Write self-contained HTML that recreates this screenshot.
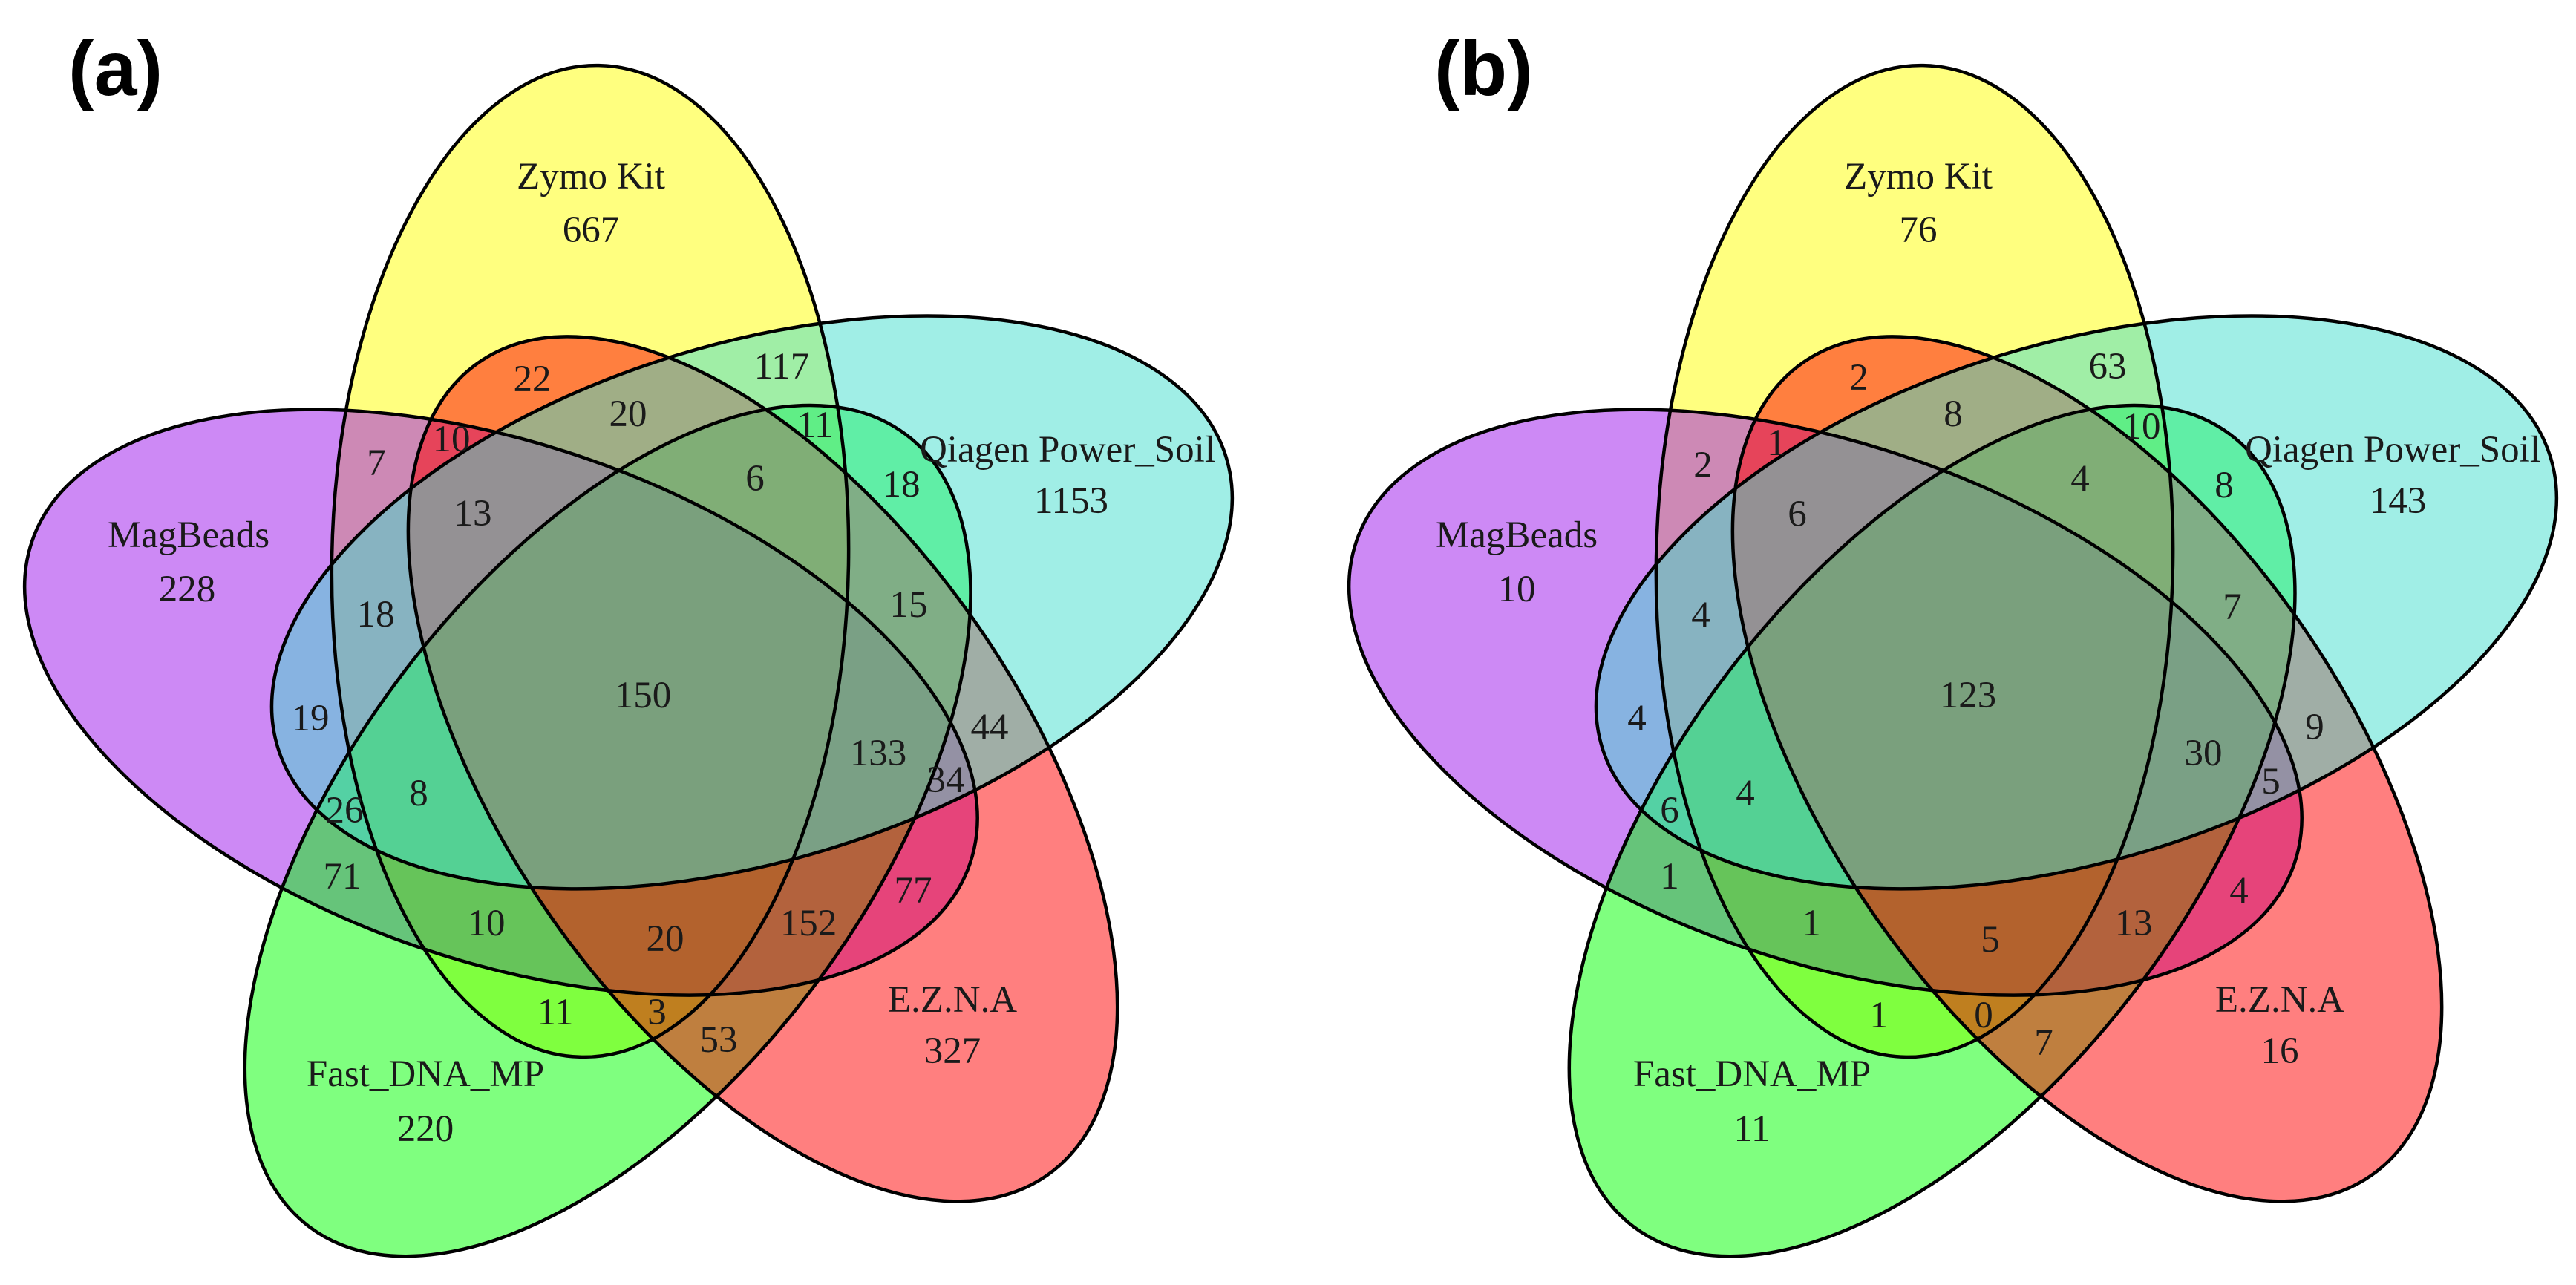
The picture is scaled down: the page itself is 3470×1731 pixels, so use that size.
<!DOCTYPE html>
<html><head><meta charset="utf-8"><style>
html,body{margin:0;padding:0;background:#fff;width:3470px;height:1731px;overflow:hidden;}
svg{display:block;}
text{font-family:"Liberation Serif",serif;font-size:51px;fill:#1a1a1a;text-anchor:middle;dominant-baseline:central;}
.lab{font-family:"Liberation Sans",sans-serif;font-weight:bold;font-size:104px;fill:#000;text-anchor:start;dominant-baseline:auto;}
</style></head><body>
<svg width="3470" height="1731" viewBox="0 0 3470 1731" xmlns="http://www.w3.org/2000/svg">
<defs>
<g id="venn">
  <ellipse cx="795" cy="756" rx="348" ry="668" transform="rotate(0 865.8 933.7) rotate(1 795 756)" fill="#FFFF00" fill-opacity="0.5"/>
  <ellipse cx="795" cy="756" rx="348" ry="668" transform="rotate(288 865.8 933.7) rotate(1 795 756)" fill="#9B13EB" fill-opacity="0.5"/>
  <ellipse cx="795" cy="756" rx="348" ry="668" transform="rotate(216 865.8 933.7) rotate(1 795 756)" fill="#00FF00" fill-opacity="0.5"/>
  <ellipse cx="795" cy="756" rx="348" ry="668" transform="rotate(144 865.8 933.7) rotate(1 795 756)" fill="#FF0000" fill-opacity="0.5"/>
  <ellipse cx="795" cy="756" rx="348" ry="668" transform="rotate(72 865.8 933.7) rotate(1 795 756)" fill="#41DDCD" fill-opacity="0.5"/>
  <g fill="none" stroke="#000" stroke-width="4.5">
  <ellipse cx="795" cy="756" rx="348" ry="668" transform="rotate(0 865.8 933.7) rotate(1 795 756)"/>
  <ellipse cx="795" cy="756" rx="348" ry="668" transform="rotate(72 865.8 933.7) rotate(1 795 756)"/>
  <ellipse cx="795" cy="756" rx="348" ry="668" transform="rotate(144 865.8 933.7) rotate(1 795 756)"/>
  <ellipse cx="795" cy="756" rx="348" ry="668" transform="rotate(216 865.8 933.7) rotate(1 795 756)"/>
  <ellipse cx="795" cy="756" rx="348" ry="668" transform="rotate(288 865.8 933.7) rotate(1 795 756)"/>
  </g>
</g>
</defs>

<use href="#venn"/>
<use href="#venn" transform="translate(1784,0)"/>

<text class="lab" x="92" y="128">(a)</text>
<text class="lab" x="1932" y="128">(b)</text>

<!-- Panel a -->
<text x="796" y="238">Zymo Kit</text><text x="796" y="310">667</text>
<text x="717" y="511">22</text>
<text x="1053" y="494">117</text>
<text x="846" y="558">20</text>
<text x="1098" y="573">11</text>
<text x="1438" y="606">Qiagen Power_Soil</text><text x="1443" y="675">1153</text>
<text x="608" y="592">10</text>
<text x="507" y="624">7</text>
<text x="1017" y="645">6</text>
<text x="1214" y="653">18</text>
<text x="637" y="692">13</text>
<text x="254" y="721">MagBeads</text><text x="252" y="794">228</text>
<text x="506" y="828">18</text>
<text x="1224" y="815">15</text>
<text x="866" y="937">150</text>
<text x="418" y="968">19</text>
<text x="1333" y="980">44</text>
<text x="1183" y="1015">133</text>
<text x="1274" y="1051">34</text>
<text x="464" y="1092">26</text>
<text x="564" y="1069">8</text>
<text x="461" y="1181">71</text>
<text x="1230" y="1200">77</text>
<text x="655" y="1244">10</text>
<text x="896" y="1265">20</text>
<text x="1089" y="1244">152</text>
<text x="1283" y="1347">E.Z.N.A</text><text x="1283" y="1416">327</text>
<text x="748" y="1364">11</text>
<text x="885" y="1364">3</text>
<text x="968" y="1401">53</text>
<text x="573" y="1447">Fast_DNA_MP</text><text x="573" y="1521">220</text>

<!-- Panel b -->
<text x="2584" y="238">Zymo Kit</text><text x="2584" y="310">76</text>
<text x="2504" y="509">2</text>
<text x="2839" y="494">63</text>
<text x="2631" y="558">8</text>
<text x="2885" y="575">10</text>
<text x="3223" y="606">Qiagen Power_Soil</text><text x="3230" y="675">143</text>
<text x="2393" y="597">1</text>
<text x="2294" y="627">2</text>
<text x="2802" y="645">4</text>
<text x="2996" y="654">8</text>
<text x="2421" y="693">6</text>
<text x="2043" y="721">MagBeads</text><text x="2043" y="794">10</text>
<text x="2291" y="829">4</text>
<text x="3007" y="818">7</text>
<text x="2651" y="937">123</text>
<text x="2205" y="968">4</text>
<text x="3118" y="980">9</text>
<text x="2968" y="1015">30</text>
<text x="3059" y="1053">5</text>
<text x="2249" y="1092">6</text>
<text x="2351" y="1069">4</text>
<text x="2249" y="1181">1</text>
<text x="3016" y="1200">4</text>
<text x="2440" y="1244">1</text>
<text x="2681" y="1266">5</text>
<text x="2874" y="1244">13</text>
<text x="3071" y="1347">E.Z.N.A</text><text x="3071" y="1416">16</text>
<text x="2531" y="1368">1</text>
<text x="2672" y="1368">0</text>
<text x="2753" y="1405">7</text>
<text x="2360" y="1447">Fast_DNA_MP</text><text x="2360" y="1521">11</text>
</svg>
</body></html>
